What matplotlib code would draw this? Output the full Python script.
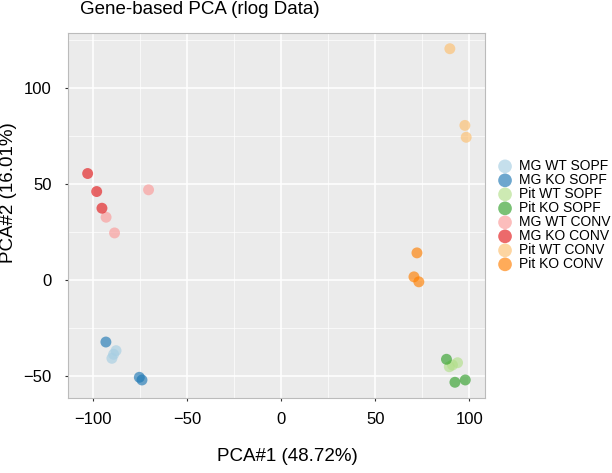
# PCA plot of rlog data, ggplot-like look
import matplotlib
matplotlib.use("Agg")
import matplotlib.pyplot as plt

plt.rcParams['font.family'] = ['Liberation Sans', 'DejaVu Sans']

groups = ["MG WT SOPF", "MG KO SOPF", "Pit WT SOPF", "Pit KO SOPF",
          "MG WT CONV", "MG KO CONV", "Pit WT CONV", "Pit KO CONV"]
colors = ["#A6CEE3", "#1F78B4", "#B2DF8A", "#33A02C",
          "#FB9A99", "#E31A1C", "#FDBF6F", "#FF7F00"]

# PCA coordinates
pc1 = {
    "MG WT SOPF": [-87.9, -89.2, -90.1],
    "MG KO SOPF": [-93.3, -75.5, -74.1],
    "Pit WT SOPF": [93.8, 89.4, 91.1],
    "Pit KO SOPF": [87.9, 92.4, 97.9],
    "MG WT CONV": [-70.6, -93.2, -88.7],
    "MG KO CONV": [-103.0, -98.2, -95.4],
    "Pit WT CONV": [89.7, 97.7, 98.4],
    "Pit KO CONV": [72.2, 70.6, 73.2],
}
pc2 = {
    "MG WT SOPF": [-36.9, -38.8, -40.9],
    "MG KO SOPF": [-32.4, -50.8, -52.2],
    "Pit WT SOPF": [-43.2, -45.3, -44.4],
    "Pit KO SOPF": [-41.4, -53.4, -52.2],
    "MG WT CONV": [47.0, 32.7, 24.5],
    "MG KO CONV": [55.5, 46.1, 37.4],
    "Pit WT CONV": [120.6, 80.6, 74.4],
    "Pit KO CONV": [14.1, 1.6, -1.0],
}

xticks = [-100, -50, 0, 50, 100]
yticks = [-50, 0, 50, 100]

W, H = 612, 473
fig = plt.figure(figsize=(W / 100, H / 100), dpi=100)
ax = fig.add_axes([68.3 / W, 1 - 398 / H, (485 - 68.3) / W, (398 - 33) / H])
ax.set_facecolor("#EBEBEB")

for g, c in zip(groups, colors):
    ax.scatter(pc1[g], pc2[g], s=62, color=c, alpha=0.65, edgecolors="none",
               label=g, zorder=3)

ax.set_xlim(-113.3, 108.4)
ax.set_ylim(-61.6, 128.8)
ax.set_xticks(xticks)
ax.set_yticks(yticks)
ax.set_xticks([-75, -25, 25, 75], minor=True)
ax.set_yticks([-25, 25, 75, 125], minor=True)
ax.grid(True, which="major", color="white", linewidth=1.1, zorder=0)
ax.grid(True, which="minor", color="white", linewidth=0.5, zorder=0)
ax.set_axisbelow(True)
ax.tick_params(which="major", length=2.5, width=0.8, color="#333333",
               labelsize=12, labelcolor="black", pad=7.5)
ax.tick_params(axis="y", pad=9.5)
ax.tick_params(which="minor", length=0)
for sp in ax.spines.values():
    sp.set_color("#BBBBBB")
    sp.set_linewidth(0.8)

ax.set_xlabel("PCA#1 (48.72%)", fontsize=13.5)
ax.set_ylabel("PCA#2 (16.01%)", fontsize=13.5)
ax.xaxis.set_label_coords(0.525, -0.138)
ax.yaxis.set_label_coords(-0.122, 0.562)

fig.text(80 / W, 1 - 9 / H, "Gene-based PCA (rlog Data)", fontsize=13.5,
         ha="left", va="center")

leg = ax.legend(loc="upper left", bbox_to_anchor=(493.5 / W, 1 - 159 / H),
                bbox_transform=fig.transFigure, frameon=False, fontsize=10,
                handlelength=1.66, handletextpad=0.2, labelspacing=0.0,
                borderpad=0, borderaxespad=0, scatterpoints=1, markerscale=1.25)

plt.savefig("out.png", dpi=100)
